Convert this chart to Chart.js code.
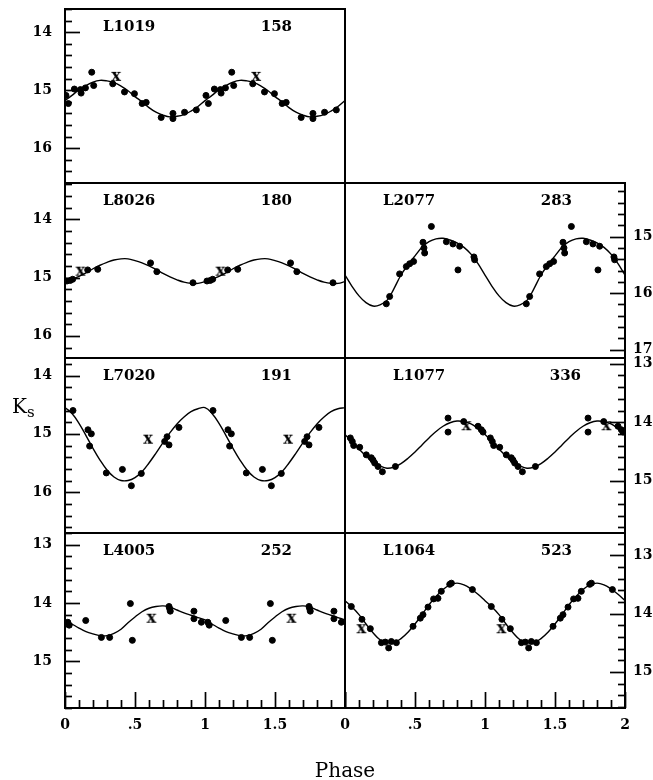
<!DOCTYPE html>
<html>
<head>
<meta charset="utf-8">
<script src="https://cdn.jsdelivr.net/npm/chart.js@4.4.1/dist/chart.umd.min.js"></script>
<style>
html, body { margin: 0; padding: 0; background: #fff; }
#wrap { position: relative; width: 653px; height: 780px; }
#wrap canvas { position: absolute; left: 0; top: 0; }
</style>
</head>
<body>
<div id="wrap"></div>
<script>
var curvePhase = [0, 0.05, 0.1, 0.15, 0.2, 0.25, 0.3, 0.35, 0.4, 0.45, 0.5, 0.55, 0.6, 0.65, 0.7, 0.75, 0.8, 0.85, 0.9, 0.95, 1];

// x axis ticks (phase)
var xTickVals = [0, 0.5, 1, 1.5, 2];
var xTickLabels = ['0', '.5', '1', '1.5', '2'];

// L1019, P = 158
var L1019_ph  = [0.007, 0.024, 0.067, 0.11, 0.115, 0.146, 0.191, 0.205, 0.341, 0.425, 0.496, 0.551, 0.58, 0.687, 0.771, 0.771, 0.854, 0.938];
var L1019_mag = [15.09, 15.23, 14.98, 14.99, 15.05, 14.96, 14.69, 14.92, 14.89, 15.03, 15.06, 15.23, 15.21, 15.47, 15.40, 15.49, 15.38, 15.34];
var L1019_xph = [0.365];
var L1019_xmag = [14.77];
var L1019_fit = [15.18, 15.09, 14.99, 14.92, 14.86, 14.83, 14.84, 14.87, 14.93, 15.01, 15.11, 15.20, 15.30, 15.38, 15.43, 15.46, 15.45, 15.42, 15.36, 15.28, 15.18];
var L1019_ticks = [14, 15, 16];

// L8026, P = 180
var L8026_ph  = [0.014, 0.038, 0.055, 0.162, 0.234, 0.611, 0.656, 0.914];
var L8026_mag = [15.06, 15.05, 15.03, 14.87, 14.86, 14.75, 14.90, 15.09];
var L8026_xph = [0.11];
var L8026_xmag = [14.90];
var L8026_fit = [15.07, 15.03, 14.98, 14.92, 14.85, 14.79, 14.74, 14.70, 14.68, 14.68, 14.71, 14.75, 14.80, 14.86, 14.93, 14.99, 15.04, 15.08, 15.10, 15.10, 15.07];
var L8026_ticks = [14, 15, 16];

// L2077, P = 283
var L2077_ph  = [0.295, 0.319, 0.39, 0.438, 0.462, 0.49, 0.557, 0.564, 0.569, 0.617, 0.724, 0.771, 0.819, 0.807, 0.921, 0.926];
var L2077_mag = [16.19, 16.06, 15.66, 15.53, 15.48, 15.44, 15.10, 15.20, 15.29, 14.82, 15.09, 15.13, 15.17, 15.59, 15.36, 15.41];
var L2077_xph = [];
var L2077_xmag = [];
var L2077_fit = [15.68, 15.88, 16.05, 16.17, 16.23, 16.21, 16.13, 15.92, 15.68, 15.50, 15.34, 15.19, 15.09, 15.04, 15.03, 15.06, 15.11, 15.19, 15.31, 15.48, 15.68];
var L2077_ticks = [15, 16, 17];

// L7020, P = 191
var L7020_ph  = [0.057, 0.164, 0.188, 0.176, 0.295, 0.41, 0.474, 0.545, 0.712, 0.729, 0.743, 0.814];
var L7020_mag = [14.60, 14.93, 15.00, 15.21, 15.67, 15.61, 15.89, 15.68, 15.13, 15.05, 15.19, 14.89];
var L7020_xph = [0.593];
var L7020_xmag = [15.10];
var L7020_fit = [14.55, 14.65, 14.82, 15.03, 15.25, 15.45, 15.62, 15.74, 15.80, 15.80, 15.75, 15.65, 15.50, 15.33, 15.15, 14.98, 14.83, 14.71, 14.62, 14.57, 14.55];
var L7020_ticks = [14, 15, 16];

// L1077, P = 336
var L1077_ph  = [0.038, 0.052, 0.062, 0.105, 0.152, 0.188, 0.2, 0.212, 0.236, 0.267, 0.36, 0.736, 0.736, 0.848, 0.95, 0.974, 0.986];
var L1077_mag = [14.27, 14.33, 14.40, 14.43, 14.56, 14.61, 14.65, 14.70, 14.76, 14.85, 14.76, 13.93, 14.17, 13.99, 14.07, 14.13, 14.17];
var L1077_xph = [0.867];
var L1077_xmag = [14.07];
var L1077_fit = [14.21, 14.33, 14.46, 14.58, 14.68, 14.75, 14.79, 14.77, 14.71, 14.62, 14.51, 14.39, 14.27, 14.16, 14.07, 14.01, 13.98, 13.99, 14.03, 14.11, 14.21];
var L1077_ticks = [13, 14, 15];

// L4005, P = 252
var L4005_ph  = [0.02, 0.03, 0.148, 0.26, 0.319, 0.467, 0.481, 0.743, 0.748, 0.752, 0.921, 0.921, 0.974];
var L4005_mag = [14.33, 14.38, 14.30, 14.59, 14.59, 14.01, 14.64, 14.06, 14.10, 14.14, 14.14, 14.27, 14.33];
var L4005_xph = [0.617];
var L4005_xmag = [14.27];
var L4005_fit = [14.29, 14.36, 14.43, 14.49, 14.53, 14.56, 14.56, 14.52, 14.45, 14.34, 14.24, 14.15, 14.09, 14.06, 14.05, 14.07, 14.12, 14.17, 14.21, 14.25, 14.29];
var L4005_ticks = [13, 14, 15];

// L1064, P = 523
var L1064_ph  = [0.045, 0.121, 0.181, 0.26, 0.288, 0.312, 0.331, 0.367, 0.486, 0.538, 0.557, 0.593, 0.633, 0.664, 0.688, 0.748, 0.76, 0.91];
var L1064_mag = [13.88, 14.10, 14.26, 14.50, 14.49, 14.59, 14.48, 14.50, 14.22, 14.08, 14.02, 13.89, 13.75, 13.74, 13.62, 13.50, 13.48, 13.59];
var L1064_xph = [0.117];
var L1064_xmag = [14.27];
var L1064_fit = [13.78, 13.89, 14.02, 14.18, 14.33, 14.45, 14.50, 14.50, 14.43, 14.32, 14.18, 14.02, 13.85, 13.71, 13.59, 13.51, 13.48, 13.51, 13.58, 13.67, 13.78];
var L1064_ticks = [13, 14, 15];

var FONT = "'DejaVu Serif', 'Liberation Serif', serif";
var CW = 653, CH = 780;
var colX = [[65, 345], [345, 625]];
var rowY = [[8, 183], [183, 358], [358, 533], [533, 708]];

var panels = [
  {name: 'L1019', per: '158', col: 0, row: 0, ymin: 13.6,  ymax: 16.6,  ph: L1019_ph, mag: L1019_mag, xph: L1019_xph, xmag: L1019_xmag, fit: L1019_fit, ticks: L1019_ticks, nameDx: 38, perDx: 227},
  {name: 'L8026', per: '180', col: 0, row: 1, ymin: 13.38, ymax: 16.38, ph: L8026_ph, mag: L8026_mag, xph: L8026_xph, xmag: L8026_xmag, fit: L8026_fit, ticks: L8026_ticks, nameDx: 38, perDx: 227},
  {name: 'L2077', per: '283', col: 1, row: 1, ymin: 14.05, ymax: 17.15, ph: L2077_ph, mag: L2077_mag, xph: L2077_xph, xmag: L2077_xmag, fit: L2077_fit, ticks: L2077_ticks, nameDx: 38, perDx: 227},
  {name: 'L7020', per: '191', col: 0, row: 2, ymin: 13.7,  ymax: 16.7,  ph: L7020_ph, mag: L7020_mag, xph: L7020_xph, xmag: L7020_xmag, fit: L7020_fit, ticks: L7020_ticks, nameDx: 38, perDx: 227},
  {name: 'L1077', per: '336', col: 1, row: 2, ymin: 12.9,  ymax: 15.9,  ph: L1077_ph, mag: L1077_mag, xph: L1077_xph, xmag: L1077_xmag, fit: L1077_fit, ticks: L1077_ticks, nameDx: 48, perDx: 236},
  {name: 'L4005', per: '252', col: 0, row: 3, ymin: 12.8,  ymax: 15.8,  ph: L4005_ph, mag: L4005_mag, xph: L4005_xph, xmag: L4005_xmag, fit: L4005_fit, ticks: L4005_ticks, nameDx: 38, perDx: 227},
  {name: 'L1064', per: '523', col: 1, row: 3, ymin: 12.62, ymax: 15.62, ph: L1064_ph, mag: L1064_mag, xph: L1064_xph, xmag: L1064_xmag, fit: L1064_fit, ticks: L1064_ticks, nameDx: 38, perDx: 227}
];

// same measurements shown over two cycles
function twoCycles(ph, mag) {
  var out = [];
  for (var k = 0; k < 2; k++)
    for (var i = 0; i < ph.length; i++) out.push({x: ph[i] + k, y: mag[i]});
  return out;
}
function fitCurve(mag) {
  var out = [];
  for (var k = 0; k < 2; k++)
    for (var i = 0; i < curvePhase.length; i++) {
      if (k == 1 && i == 0) continue;
      out.push({x: curvePhase[i] + k, y: mag[i]});
    }
  return out;
}

// "x" symbol as point style
var xMark = document.createElement('canvas');
xMark.width = 16; xMark.height = 16;
var xc = xMark.getContext('2d');
xc.font = "bold 16px " + FONT;
xc.textAlign = 'center';
xc.textBaseline = 'alphabetic';
xc.fillStyle = '#000';
xc.fillText('x', 8, 12);

function near(a, b) { return Math.abs(a - b) < 1e-6; }

function makePanel(p) {
  var cv = document.createElement('canvas');
  cv.width = CW; cv.height = CH;
  document.getElementById('wrap').appendChild(cv);

  var side = p.col == 0 ? 'left' : 'right';
  var yW = p.col == 0 ? 50 : 28;
  var bottomRow = p.row == 3;
  var xH = 40;
  var pad = {
    left: p.col == 0 ? colX[0][0] - yW : colX[1][0],
    right: p.col == 0 ? CW - colX[0][1] : CW - colX[1][1] - yW,
    top: rowY[p.row][0],
    bottom: bottomRow ? CH - rowY[3][1] - xH : CH - rowY[p.row][1]
  };

  var panelPlugin = {
    id: 'panel' + p.name,
    afterDraw: function(chart) {
      var a = chart.chartArea, ctx = chart.ctx;
      var ys = chart.scales.y, xs = chart.scales.x;
      ctx.save();
      ctx.strokeStyle = '#000';
      ctx.lineWidth = 1.7;
      ys.ticks.forEach(function(t) {
        var y = Math.round(ys.getPixelForValue(t.value)) + 0.5;
        var len = near(t.value, Math.round(t.value)) ? 15 : 7;
        ctx.beginPath();
        if (side == 'left') { ctx.moveTo(a.left, y); ctx.lineTo(a.left + len, y); }
        else { ctx.moveTo(a.right, y); ctx.lineTo(a.right - len, y); }
        ctx.stroke();
      });
      if (bottomRow) {
        xs.ticks.forEach(function(t) {
          var x = Math.round(xs.getPixelForValue(t.value)) + 0.5;
          var len = near(t.value * 2, Math.round(t.value * 2)) ? 16 : 8;
          ctx.beginPath();
          ctx.moveTo(x, a.bottom); ctx.lineTo(x, a.bottom - len);
          ctx.stroke();
        });
      }
      ctx.lineWidth = 2;
      ctx.strokeRect(a.left, a.top, a.right - a.left, a.bottom - a.top);

      ctx.fillStyle = '#000';
      ctx.font = "bold 15px " + FONT;
      ctx.textBaseline = 'middle';
      ctx.textAlign = 'left';
      ctx.fillText(p.name, a.left + p.nameDx, a.top + 18);
      ctx.textAlign = 'right';
      ctx.fillText(p.per, a.left + p.perDx, a.top + 18);

      if (p.name == 'L7020') {
        ctx.textAlign = 'left';
        ctx.textBaseline = 'alphabetic';
        ctx.font = "20px " + FONT;
        ctx.fillText('K', 12, 413);
        ctx.font = "15px " + FONT;
        ctx.fillText('s', 27, 417);
      }
      if (p.name == 'L4005') {
        ctx.textAlign = 'center';
        ctx.textBaseline = 'alphabetic';
        ctx.font = "20px " + FONT;
        ctx.fillText('Phase', 345, 777);
      }
      ctx.restore();
    }
  };

  new Chart(cv, {
    type: 'scatter',
    data: {
      datasets: [
        {data: fitCurve(p.fit), showLine: true, borderColor: '#000', borderWidth: 1.4,
         pointRadius: 0, tension: 0.4, fill: false},
        {data: twoCycles(p.ph, p.mag), pointRadius: 3, pointBorderWidth: 1,
         backgroundColor: '#000', borderColor: '#000'},
        {data: twoCycles(p.xph, p.xmag), pointStyle: xMark, pointRadius: 8}
      ]
    },
    options: {
      responsive: false,
      devicePixelRatio: 1,
      animation: false,
      events: [],
      layout: {padding: pad},
      plugins: {legend: {display: false}, tooltip: {enabled: false}, title: {display: false}},
      scales: {
        x: {
          type: 'linear', min: 0, max: 2, display: bottomRow,
          grid: {display: false, drawTicks: false}, border: {display: false},
          ticks: {
            autoSkip: false, maxRotation: 0, padding: 9, color: '#000',
            font: {family: FONT, size: 14, weight: 'bold'},
            callback: function(v) {
              for (var i = 0; i < xTickVals.length; i++) {
                if (near(v, xTickVals[i])) {
                  if (p.col == 0 && near(v, 2)) return '';
                  return xTickLabels[i];
                }
              }
              return '';
            }
          },
          afterBuildTicks: function(s) {
            var t = [];
            for (var i = 0; i <= 20; i++) t.push({value: i / 10});
            s.ticks = t;
          },
          afterFit: function(s) {
            if (bottomRow) s.height = xH;
            s.paddingLeft = 0; s.paddingRight = 0;
          }
        },
        y: {
          type: 'linear', position: side, reverse: true, min: p.ymin, max: p.ymax,
          grid: {display: false, drawTicks: false}, border: {display: false},
          ticks: {
            autoSkip: false, padding: side == 'left' ? 13 : 8, color: '#000',
            font: {family: FONT, size: 14, weight: 'bold'},
            callback: function(v) {
              for (var i = 0; i < p.ticks.length; i++) if (near(v, p.ticks[i])) return String(p.ticks[i]);
              return '';
            }
          },
          afterBuildTicks: function(s) {
            var t = [];
            var a = Math.ceil(s.min / 0.2 - 1e-6), b = Math.floor(s.max / 0.2 + 1e-6);
            for (var i = a; i <= b; i++) t.push({value: Math.round(i * 2) / 10});
            s.ticks = t;
          },
          afterFit: function(s) {
            s.width = yW;
            s.paddingTop = 0; s.paddingBottom = 0;
          }
        }
      }
    },
    plugins: [panelPlugin]
  });
}

panels.forEach(makePanel);
</script>
</body>
</html>
